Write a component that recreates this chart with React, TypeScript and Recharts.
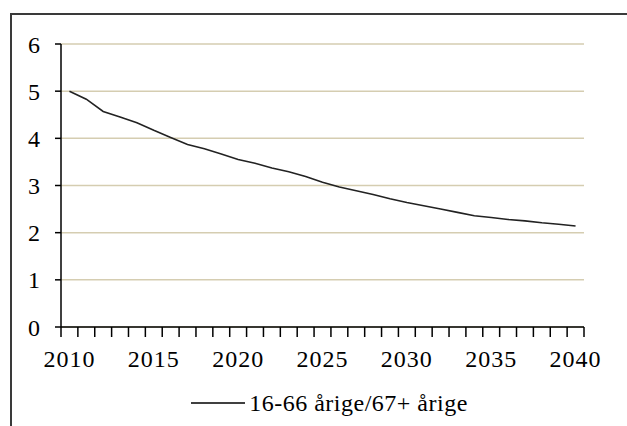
import { LineChart, Line, XAxis, YAxis, CartesianGrid, Legend } from "recharts";

const FONT = "Liberation Serif, Times New Roman, DejaVu Serif";

const years = [
  2010, 2011, 2012, 2013, 2014, 2015, 2016, 2017, 2018, 2019, 2020,
  2021, 2022, 2023, 2024, 2025, 2026, 2027, 2028, 2029, 2030,
  2031, 2032, 2033, 2034, 2035, 2036, 2037, 2038, 2039, 2040,
];
const ratio = [
  5.0, 4.83, 4.57, 4.45, 4.33, 4.17, 4.02, 3.87, 3.78, 3.67, 3.55,
  3.47, 3.37, 3.29, 3.19, 3.07, 2.97, 2.89, 2.81, 2.72, 2.64,
  2.57, 2.5, 2.43, 2.36, 2.32, 2.28, 2.25, 2.21, 2.18, 2.14,
];
const yTicks = [0, 1, 2, 3, 4, 5, 6];
const yearLabels = [2010, 2015, 2020, 2025, 2030, 2035, 2040];
const seriesName = "16-66 årige/67+ årige";

const data = years.map((year, i) => ({ year, ratio: ratio[i] }));
// excel-style category axis: tick marks sit between the years
const bandEdges = [...years.map((y) => y - 0.5), years[years.length - 1] + 0.5];
const xDomain = [years[0] - 0.5, years[years.length - 1] + 0.5];

const LegendContent = () => (
  <div
    style={{
      display: "flex",
      alignItems: "center",
      justifyContent: "center",
      height: 30,
      paddingLeft: 32,
      fontFamily: FONT,
      fontSize: 24,
      letterSpacing: 0.5,
      color: "#000",
    }}
  >
    <svg width={54} height={4}>
      <line x1={0} y1={2} x2={54} y2={2} stroke="#000" strokeWidth={1.5} />
    </svg>
    <span style={{ marginLeft: 4 }}>{seriesName}</span>
  </div>
);

export default function App() {
  return (
    <div style={{ position: "fixed", left: 0, top: 0, width: 627, height: 426, overflow: "hidden", background: "#fff" }}>
      <div
        style={{
          position: "absolute",
          left: 10,
          top: 13,
          width: 700,
          height: 500,
          borderLeft: "2px solid #3a3a3a",
          borderTop: "2px solid #3a3a3a",
        }}
      />
      <div style={{ position: "absolute", left: 0, top: 0, fontFamily: FONT }}>
        <LineChart width={627} height={426} data={data} margin={{ top: 44, right: 43, left: 0, bottom: 8 }}>
          <CartesianGrid horizontal vertical={false} stroke="#d5cdb1" strokeWidth={1.5} />
          <XAxis
            xAxisId="edges"
            dataKey="year"
            type="number"
            domain={xDomain}
            allowDataOverflow
            ticks={bandEdges}
            interval={0}
            height={10}
            tickSize={10}
            tickFormatter={() => ""}
            stroke="#000"
            strokeWidth={1.5}
          />
          <XAxis
            xAxisId="labels"
            dataKey="year"
            type="number"
            domain={xDomain}
            allowDataOverflow
            ticks={yearLabels}
            interval={0}
            height={51}
            axisLine={false}
            tickLine={false}
            tickSize={0}
            tickMargin={13}
            tick={{ fill: "#000", fontFamily: FONT, fontSize: 24, letterSpacing: 1 }}
          />
          <YAxis
            domain={[0, 6]}
            ticks={yTicks}
            interval={0}
            width={61}
            tickSize={6}
            tickMargin={15}
            stroke="#000"
            strokeWidth={1.5}
            tick={{ fill: "#000", fontFamily: FONT, fontSize: 24 }}
          />
          <Legend verticalAlign="bottom" wrapperStyle={{ left: 0, width: 627 }} content={LegendContent} />
          <Line
            xAxisId="edges"
            dataKey="ratio"
            name={seriesName}
            type="linear"
            stroke="#222"
            strokeWidth={1.6}
            dot={false}
            activeDot={false}
            isAnimationActive={false}
          />
        </LineChart>
      </div>
    </div>
  );
}
